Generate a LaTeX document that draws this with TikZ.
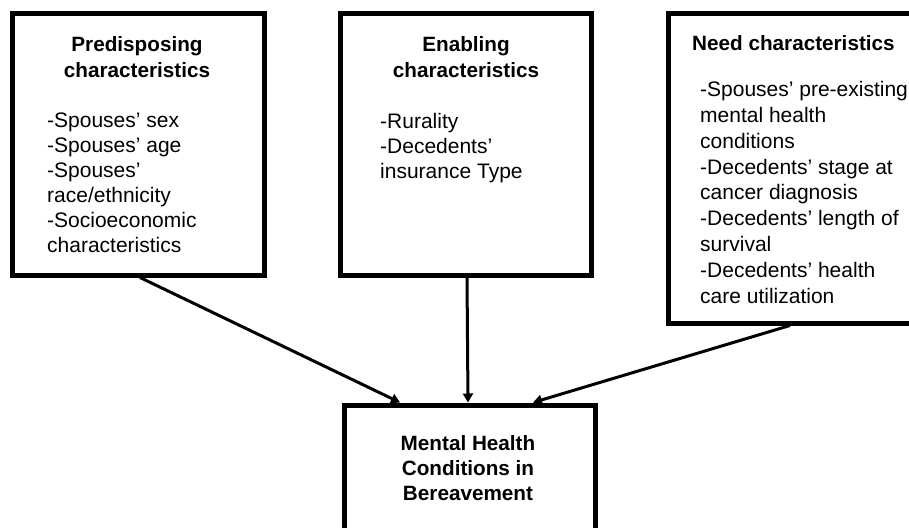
\documentclass[tikz,border=0pt]{standalone}
\usepackage{fontspec}
\setmainfont{Liberation Sans}
\usetikzlibrary{arrows.meta}

\begin{document}
\begin{tikzpicture} [x=1pt,y=-1pt]
  % the boxes get a thick black border
  \tikzstyle{every node}=[inner sep=0pt]
  \tikzstyle{frame}=[draw,line width=5pt]
  \tikzstyle{head}=[font=\fontsize{20.7}{25}\selectfont\bfseries,align=center,anchor=base]
  \tikzstyle{items}=[font=\fontsize{21}{25}\selectfont,align=left,anchor=base west]
  \tikzstyle{link}=[line width=3pt,-{Triangle[length=9pt,width=10pt]}]

  \useasboundingbox (0,0) rectangle (909,527);
  \clip (0,0) rectangle (909,527);

  % Draw the boxes
  \node [frame,minimum width=252,minimum height=261] (pred) at (138.0, 144.5) {};
  \node [frame,minimum width=251,minimum height=261] (enab) at (465.5, 144.5) {};
  \node [frame,minimum width=267,minimum height=309] (need) at (801.5, 168.5) {};
  \node [frame,minimum width=251,minimum height=143] (ment) at (469.5, 476.5) {};

  % box texts (anchored at the baseline of their last line)
  \node [head] (predT) at (137, 77) {Predisposing\\characteristics};
  \node [items] (predL) at (47, 252) {-Spouses’ sex\\-Spouses’ age\\-Spouses’\\race/ethnicity\\-Socioeconomic\\characteristics};
  \node [head] (enabT) at (466, 77) {Enabling\\characteristics};
  \node [items] (enabL) at (380, 178) {-Rurality\\-Decedents’\\insurance Type};
  \node [head,anchor=base west] (needT) at (692, 50) {Need characteristics};
  \node [items,font=\fontsize{21}{25.8}\selectfont] (needL) at (700, 303) {-Spouses’ pre-existing\\mental health\\conditions\\-Decedents’ stage at\\cancer diagnosis\\-Decedents’ length of\\survival\\-Decedents’ health\\care utilization};
  \node [head] (mentT) at (468, 500) {Mental Health\\Conditions in\\Bereavement};

  % arrows into the outcome box
  \draw [link] ([xshift=2pt]pred.south) -- ([xshift=-69.5pt]ment.north);
  \draw [link] ([xshift=1.5pt]enab.south) -- ([xshift=-1.5pt]ment.north);
  \draw [link] ([xshift=-11.5pt]need.south) -- ([xshift=63.5pt]ment.north);

\end{tikzpicture}
\end{document}
